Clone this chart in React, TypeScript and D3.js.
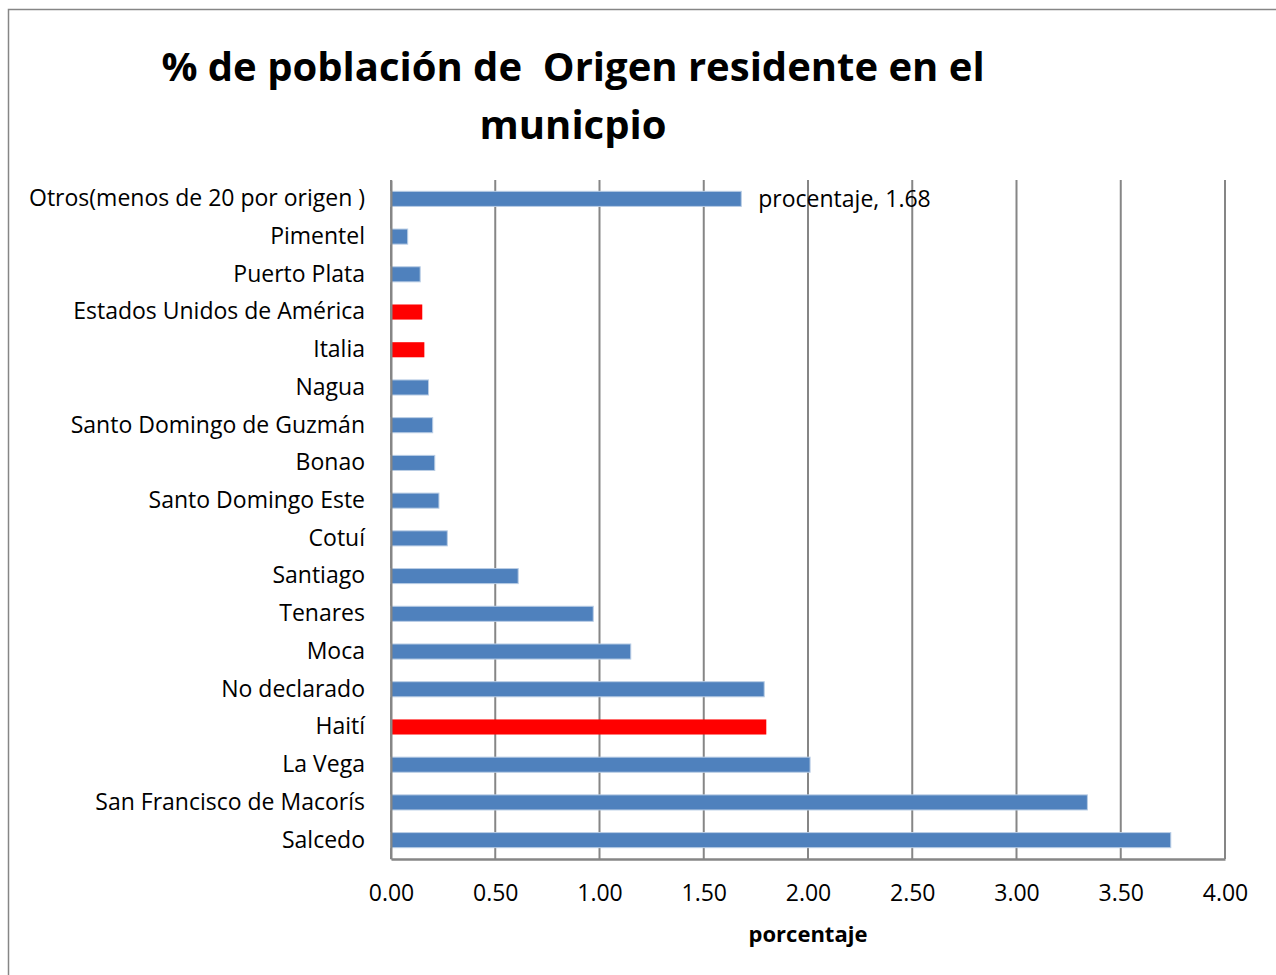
import React, { useRef, useEffect } from "react";
import { select, scaleLinear, scaleBand, axisBottom, axisLeft } from "d3";

// categories from top to bottom as they appear
const categories = [
  "Otros(menos de 20 por origen )",
  "Pimentel",
  "Puerto Plata",
  "Estados Unidos de América",
  "Italia",
  "Nagua",
  "Santo Domingo de Guzmán",
  "Bonao",
  "Santo Domingo Este",
  "Cotuí",
  "Santiago",
  "Tenares",
  "Moca",
  "No declarado",
  "Haití",
  "La Vega",
  "San Francisco de Macorís",
  "Salcedo",
];
const values = [1.68, 0.08, 0.14, 0.15, 0.16, 0.18, 0.2, 0.21, 0.23, 0.27, 0.61, 0.97, 1.15, 1.79, 1.8, 2.01, 3.34, 3.74];
const highlighted = ["Estados Unidos de América", "Italia", "Haití"];
const xTicks = [0, 0.5, 1, 1.5, 2, 2.5, 3, 3.5, 4];
const labelled = "Otros(menos de 20 por origen )";

const FONT = "'Open Sans', sans-serif";

const App = () => {
  const svgRef = useRef<SVGSVGElement>(null);

  useEffect(() => {
    const svg = select(svgRef.current);
    const left = 391;
    const right = 1225;
    const top = 180;
    const bottom = 859;

    const x = scaleLinear().domain([0, 4]).range([left, right]);
    const y = scaleBand().domain(categories).range([top, bottom]).paddingInner(0.6).paddingOuter(0.3);

    // vertical gridlines
    svg
      .select(".grid")
      .selectAll("line")
      .data(xTicks)
      .join("line")
      .attr("x1", (d) => x(d))
      .attr("x2", (d) => x(d))
      .attr("y1", top)
      .attr("y2", bottom)
      .attr("stroke", "#868686")
      .attr("stroke-width", 2);

    // bars
    svg
      .select(".bars")
      .selectAll("rect")
      .data(values)
      .join("rect")
      .attr("x", x(0))
      .attr("y", (d, i) => y(categories[i]) as number)
      .attr("width", (d) => x(d) - x(0))
      .attr("height", y.bandwidth())
      .attr("fill", (d, i) => (highlighted.includes(categories[i]) ? "#FF0000" : "#4F81BD"))
      .attr("stroke", (d, i) => (highlighted.includes(categories[i]) ? "none" : "#B9CDE5"))
      .attr("stroke-width", 1);

    // x axis
    const xAxis = axisBottom(x)
      .tickValues(xTicks)
      .tickFormat((d) => (d as number).toFixed(2))
      .tickSize(0)
      .tickPadding(26);
    const gx = svg.select(".x-axis").attr("transform", `translate(0,${bottom})`).call(xAxis as any);
    gx.select(".domain").attr("stroke", "#868686").attr("stroke-width", 2.5);
    gx.selectAll("text").attr("font-family", FONT).attr("font-size", 23).attr("fill", "#000");

    // y axis
    const yAxis = axisLeft(y).tickSize(0).tickPadding(26);
    const gy = svg.select(".y-axis").attr("transform", `translate(${left},0)`).call(yAxis as any);
    gy.select(".domain").attr("stroke", "#868686").attr("stroke-width", 2);
    gy.selectAll("text").attr("font-family", FONT).attr("font-size", 23).attr("fill", "#000");

    // data label
    const idx = categories.indexOf(labelled);
    svg
      .select(".label")
      .attr("x", x(values[idx]) + 17)
      .attr("y", (y(labelled) as number) + y.bandwidth() / 2)
      .attr("dy", "0.35em")
      .text(`procentaje, ${values[idx].toFixed(2)}`);
  }, []);

  return (
    <svg
      ref={svgRef}
      width={1276}
      height={975}
      style={{ position: "absolute", left: 0, top: 0, background: "#fff" }}
    >
      <rect x={8.5} y={9.5} width={1300} height={1000} fill="#fff" stroke="#868686" strokeWidth={1.5} />
      <g fontFamily={FONT} fontWeight="bold" fontSize={40} textAnchor="middle">
        <text x={573} y={81} xmlSpace="preserve">% de población de  Origen residente en el</text>
        <text x={573} y={139}>municpio</text>
      </g>
      <g className="grid" />
      <g className="bars" />
      <g className="x-axis" />
      <g className="y-axis" />
      <text className="label" fontFamily={FONT} fontSize={23} fill="#000" />
      <text x={808} y={942} fontFamily={FONT} fontWeight="bold" fontSize={22} textAnchor="middle">
        porcentaje
      </text>
    </svg>
  );
};

export default App;
